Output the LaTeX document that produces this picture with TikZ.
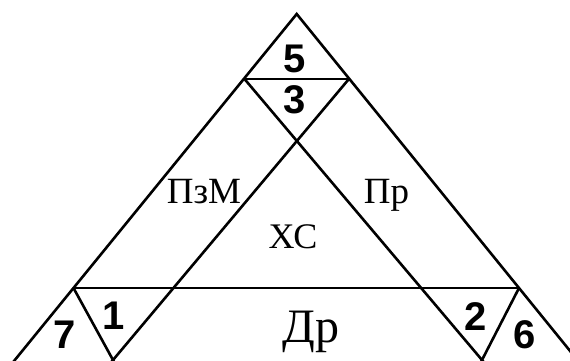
\documentclass[tikz,border=0pt]{standalone}
\usepackage{fontspec}
\setmainfont{Liberation Serif}
\newfontfamily\digitfont{Liberation Sans}
\usetikzlibrary{calc}
\begin{document}
\begin{tikzpicture}[x=1pt,y=-1pt,
  ln/.style={line width=2.6pt,line join=miter,line cap=butt},
  num/.style={font=\digitfont\bfseries\fontsize{40}{40}\selectfont,inner sep=0pt,anchor=base},
  lbl/.style={font=\fontsize{37}{37}\selectfont,inner sep=0pt,anchor=base}]
\useasboundingbox (0,0) rectangle (570,360);
\clip (0,0) rectangle (570,360);
% key points
\coordinate (A) at (296.7,14);
\coordinate (TL) at (244.5,79);
\coordinate (TR) at (348.9,79);
\coordinate (BL) at (73.5,288);
\coordinate (BR) at (519,288);
\coordinate (P1) at (113,360);
\coordinate (P2) at (482,360);
\coordinate (LE) at ($(A)!1.4!(BL)$);
\coordinate (RE) at ($(A)!1.4!(BR)$);
\coordinate (P1e) at ($(TR)!1.2!(P1)$);
\coordinate (P2e) at ($(TL)!1.2!(P2)$);
% outer sides
\draw[ln] (LE) -- (A) -- (RE);
% horizontal bars
\draw[ln] (TL) -- (TR);
\draw[ln] (BL) -- (BR);
% inner crossing lines
\draw[ln] (TL) -- (P2e);
\draw[ln] (TR) -- (P1e);
% small corner triangles
\draw[ln] (BL) -- ($(BL)!1.2!(P1)$);
\draw[ln] (BR) -- ($(BR)!1.2!(P2)$);
% numbers
\node[num] (n5) at (295,72) {5};
\node[num] (n3) at (295,113) {3};
\node[num] (n1) at (114,329) {1};
\node[num] (n7) at (65,348) {7};
\node[num] (n2) at (476,330) {2};
\node[num] (n6) at (525,348) {6};
% labels
\node[lbl] (pzm) at (204,203) {ПзМ};
\node[lbl] (pr) at (386.5,203) {Пр};
\node[lbl,font=\fontsize{36}{36}\selectfont] (xc) at (293,248) {ХС};
\node[lbl,font=\fontsize{48}{48}\selectfont] (dr) at (311,342) {Др};
\end{tikzpicture}
\end{document}
